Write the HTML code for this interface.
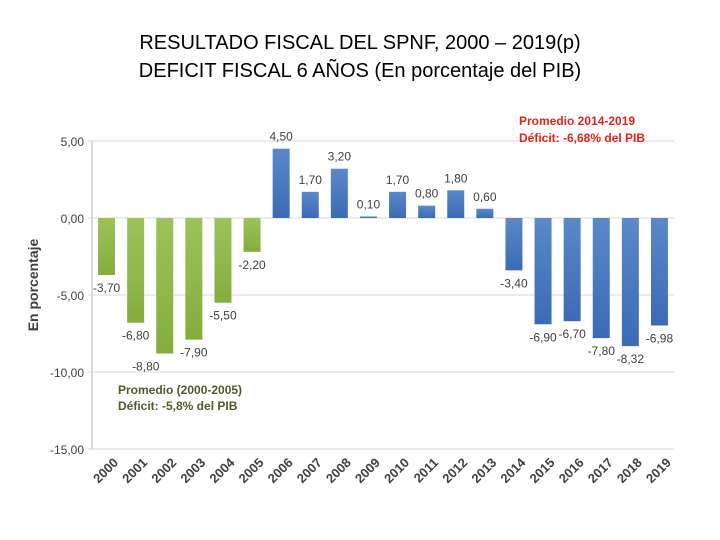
<!DOCTYPE html>
<html><head><meta charset="utf-8"><style>
body{margin:0;background:#fff;width:720px;height:540px;overflow:hidden;font-family:"Liberation Sans",sans-serif}
.t{position:absolute;left:0;width:720px;text-align:center;font-size:20px;color:#000}
</style></head><body>
<div class="t" style="top:32px">RESULTADO FISCAL DEL SPNF, 2000 – 2019(p)</div>
<div class="t" style="top:60px">DEFICIT FISCAL 6 AÑOS (En porcentaje del PIB)</div>
<svg id="c" width="720" height="540" style="position:absolute;left:0;top:0">
<defs>
<linearGradient id="gb" x1="0" y1="0" x2="0" y2="1"><stop offset="0" stop-color="#5b88c8"/><stop offset="1" stop-color="#3a6bb5"/></linearGradient>
<linearGradient id="gg" x1="0" y1="0" x2="0" y2="1"><stop offset="0" stop-color="#9cc35a"/><stop offset="1" stop-color="#84ad3e"/></linearGradient>
</defs>
</svg>
<script>
const categories=["2000","2001","2002","2003","2004","2005","2006","2007","2008","2009","2010","2011","2012","2013","2014","2015","2016","2017","2018","2019"];
const values=[-3.7,-6.8,-8.8,-7.9,-5.5,-2.2,4.5,1.7,3.2,0.1,1.7,0.8,1.8,0.6,-3.4,-6.9,-6.7,-7.8,-8.32,-6.98];
const labels=["-3,70","-6,80","-8,80","-7,90","-5,50","-2,20","4,50","1,70","3,20","0,10","1,70","0,80","1,80","0,60","-3,40","-6,90","-6,70","-7,80","-8,32","-6,98"];
const yTicks=[5,0,-5,-10,-15];
const yTickLabels=["5,00","0,00","-5,00","-10,00","-15,00"];
const svg=document.getElementById('c');const NS='http://www.w3.org/2000/svg';
const x0=92,x1=674,slot=(x1-x0)/categories.length;
const y=v=>218-v*15.4;
const cx=i=>x0+slot*(i+0.5);
function mk(t,a,txt){const e=document.createElementNS(NS,t);for(const k in a)e.setAttribute(k,a[k]);if(txt!=null)e.textContent=txt;svg.appendChild(e);return e;}
yTicks.forEach((v,i)=>{
 const g=mk('line',{x1:x0-4,x2:x1,y1:y(v),y2:y(v),stroke:'#d9d9d9','stroke-width':1});
 
 
 const t=mk('text',{x:x0-8,y:y(v)+5,'text-anchor':'end','font-size':12,fill:'#404040'},yTickLabels[i]);
 
 
});
const ax=mk('line',{x1:x0,x2:x0,y1:y(5),y2:y(-15),stroke:'#d9d9d9','stroke-width':2});


categories.forEach((c,i)=>{
 const v=values[i];const top=Math.min(y(v),y(0)),h=Math.abs(y(v)-y(0));
 const r=mk('rect',{x:cx(i)-8.5,y:top,width:17,height:h,fill:i<6?'url(#gg)':'url(#gb)'});
 
 
 const ly=v>=0?y(v)-8:y(v)+17;
 const lx=cx(i)+(i===2?-19:0);
 const l=mk('text',{x:lx,y:ly,'text-anchor':'middle','font-size':12,fill:'#404040'},labels[i]);
 
 
 const tx=cx(i)+6,ty=y(-15)+8;
 const xl=mk('text',{x:tx,y:ty,'text-anchor':'end','font-size':13,'font-weight':'bold',fill:'#404040',transform:`rotate(-45 ${tx} ${ty})`,dy:'0.7em'},c);
 
 
});
const yt=mk('text',{x:38,y:285,'text-anchor':'middle','font-size':14,'font-weight':'bold',fill:'#404040',transform:'rotate(-90 38 285)'},'En porcentaje');


const a1=mk('text',{x:118,y:394,'font-size':12,'font-weight':'bold',fill:'#4f5a2a'},'Promedio (2000-2005)');


const a2=mk('text',{x:118,y:410,'font-size':12,'font-weight':'bold',fill:'#4f5a2a'},'Déficit: -5,8% del PIB');


const b1=mk('text',{x:519,y:125,'font-size':12,'font-weight':'bold',fill:'#e2231a'},'Promedio 2014-2019');


const b2=mk('text',{x:519,y:142,'font-size':12,'font-weight':'bold',fill:'#e2231a'},'Déficit: -6,68% del PIB');


</script>
</body></html>
